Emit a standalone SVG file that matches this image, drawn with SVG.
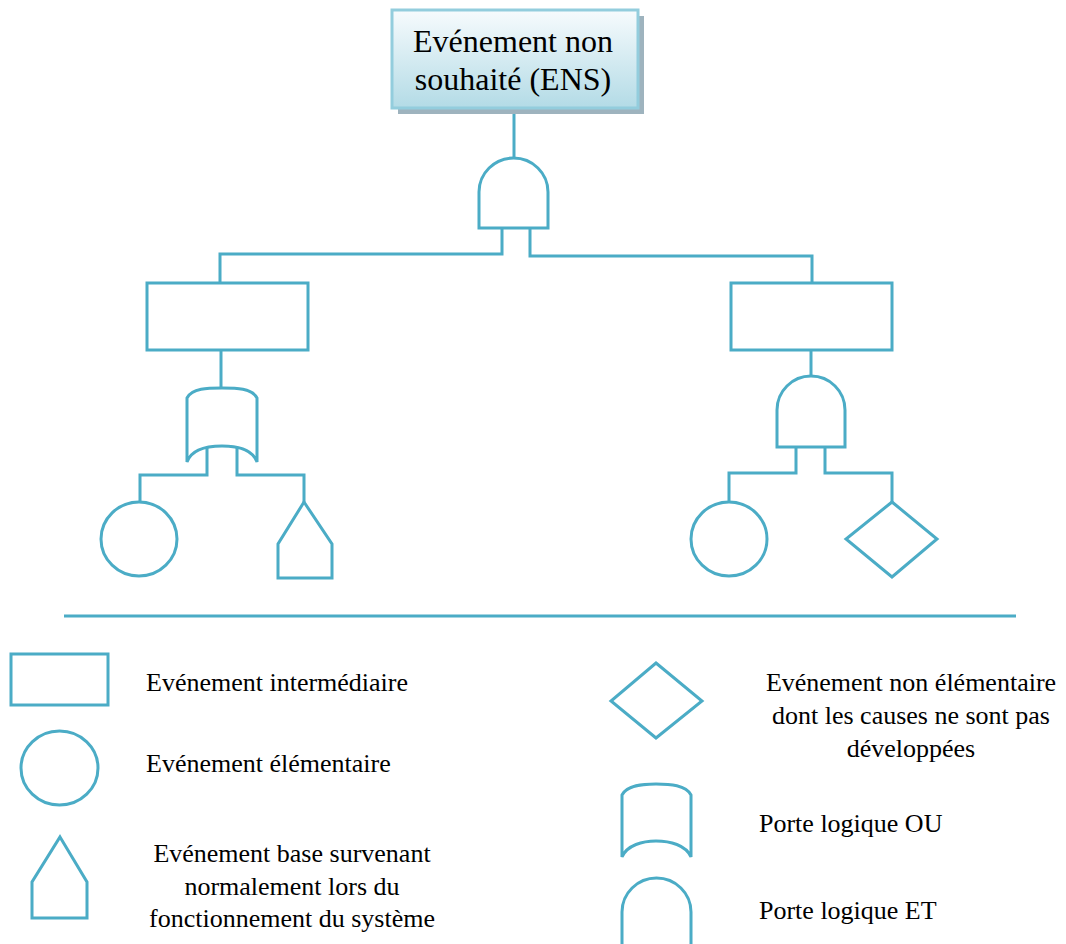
<svg xmlns="http://www.w3.org/2000/svg" width="1066" height="944" viewBox="0 0 1066 944">
<defs>
<linearGradient id="tg" x1="0" y1="0" x2="0" y2="1">
<stop offset="0" stop-color="#f7fbfd"/>
<stop offset="1" stop-color="#b3dbe6"/>
</linearGradient>
<style>
.s{fill:none;stroke:#4bacc6;stroke-width:3}
.w{fill:#ffffff;stroke:#4bacc6;stroke-width:3}
.t{font-family:"Liberation Serif","Times New Roman",serif;font-size:26px;fill:#000}
.tt{font-family:"Liberation Serif","Times New Roman",serif;font-size:32px;fill:#000}
</style>
</defs>
<rect width="1066" height="944" fill="#ffffff"/>
<g id="connectors">
<line class="s" x1="514" y1="108" x2="514" y2="158"/>
<polyline class="s" points="502,228 502,254 220,254 220,283"/>
<polyline class="s" points="530,228 530,256 812,256 812,283"/>
<line class="s" x1="221" y1="350" x2="221" y2="388"/>
<polyline class="s" points="207,447 207,475 140,475 140,502"/>
<polyline class="s" points="237,447 237,475 304,475 304,502"/>
<line class="s" x1="811" y1="350" x2="811" y2="377"/>
<polyline class="s" points="796,447 796,473 729,473 729,502"/>
<polyline class="s" points="825,447 825,473 892,473 892,502"/>
</g>
<g id="top-event">
<rect x="398" y="16" width="246" height="98" fill="#9eb3be"/>
<rect x="392" y="10" width="246" height="98" fill="url(#tg)" stroke="#93cddd" stroke-width="3"/>
<text class="tt" x="513" y="52" text-anchor="middle">Evénement non</text>
<text class="tt" x="513" y="90" text-anchor="middle">souhaité (ENS)</text>
</g>
<g id="and-gate-top">
<path class="w" d="M479,228 V192 A34.5,34 0 0 1 548,192 V228 Z"/>
</g>
<g id="intermediate-left">
<rect class="w" x="147" y="283" width="161" height="67"/>
</g>
<g id="intermediate-right">
<rect class="w" x="731" y="283" width="161" height="67"/>
</g>
<g id="or-gate-left">
<path class="w" d="M187,462 V398 C192,388 208,388 222,388 C236,388 252,388 257,398 V462 C252,448 236,446 222,446 C208,446 192,448 187,462 Z"/>
</g>
<g id="and-gate-right">
<path class="w" d="M777,447 V410 A34,34 0 0 1 845,410 V447 Z"/>
</g>
<g id="basic-left">
<ellipse class="w" cx="139" cy="539" rx="38" ry="37"/>
</g>
<g id="house-left">
<polygon class="w" points="304,502 332,544 332,578 278,578 278,544"/>
</g>
<g id="basic-right">
<ellipse class="w" cx="729" cy="539" rx="38" ry="37"/>
</g>
<g id="undeveloped-right">
<polygon class="w" points="892,502 937,539 892,577 846,539"/>
</g>
<g id="separator">
<line class="s" x1="64" y1="616" x2="1016" y2="616"/>
</g>
<g id="legend-intermediate">
<rect class="w" x="11" y="654" width="97" height="51"/>
<text class="t" x="146" y="691">Evénement intermédiaire</text>
</g>
<g id="legend-basic">
<ellipse class="w" cx="59.5" cy="768" rx="38.5" ry="37"/>
<text class="t" x="146" y="772">Evénement élémentaire</text>
</g>
<g id="legend-house">
<polygon class="w" points="60,837 87,882 87,918 32,918 32,882"/>
<text class="t" x="292" y="862" text-anchor="middle">Evénement base survenant</text>
<text class="t" x="292" y="895" text-anchor="middle">normalement lors du</text>
<text class="t" x="292" y="927" text-anchor="middle">fonctionnement du système</text>
</g>
<g id="legend-undeveloped">
<polygon class="w" points="656,663 702,701 656,738 611,701"/>
<text class="t" x="911" y="691" text-anchor="middle">Evénement non élémentaire</text>
<text class="t" x="911" y="724" text-anchor="middle">dont les causes ne sont pas</text>
<text class="t" x="911" y="757" text-anchor="middle">développées</text>
</g>
<g id="legend-or">
<path class="w" d="M622,857 V795 C627,785 643,784 656,784 C670,784 686,785 691,795 V857 C686,845 670,841 656,841 C643,841 627,845 622,857 Z"/>
<text class="t" x="759" y="832">Porte logique OU</text>
</g>
<g id="legend-and">
<path class="s" d="M622,946 V912 A34.5,34 0 0 1 691,912 V946"/>
<text class="t" x="759" y="919">Porte logique ET</text>
</g>
</svg>
